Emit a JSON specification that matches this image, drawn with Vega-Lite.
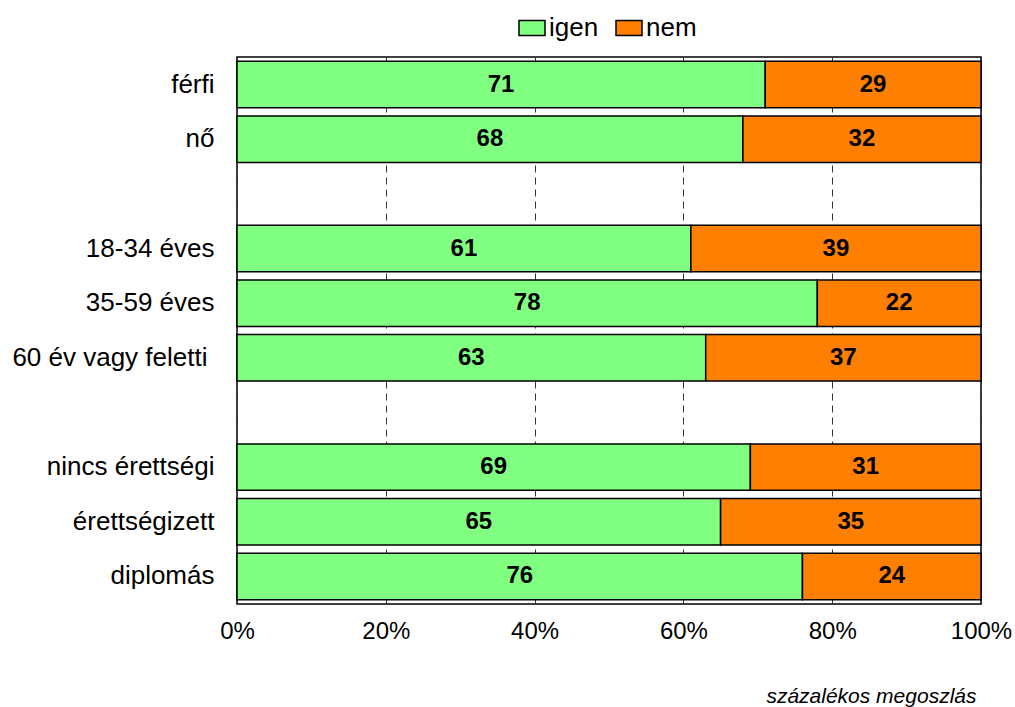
{
  "$schema": "https://vega.github.io/schema/vega-lite/v6.json",
  "autosize": {"type": "none"},
  "padding": {"left": 237, "top": 57, "right": 34, "bottom": 103},
  "width": 744,
  "height": 547,
  "background": "white",
  "config": {
    "font": "Liberation Sans",
    "view": {"stroke": "#000000", "strokeWidth": 1.5}
  },
  "data": {
    "values": [
      {"group": "férfi", "answer": "igen", "value": 71},
      {"group": "férfi", "answer": "nem", "value": 29},
      {"group": "nő", "answer": "igen", "value": 68},
      {"group": "nő", "answer": "nem", "value": 32},
      {"group": "18-34 éves", "answer": "igen", "value": 61},
      {"group": "18-34 éves", "answer": "nem", "value": 39},
      {"group": "35-59 éves", "answer": "igen", "value": 78},
      {"group": "35-59 éves", "answer": "nem", "value": 22},
      {"group": "60 év vagy feletti", "answer": "igen", "value": 63},
      {"group": "60 év vagy feletti", "answer": "nem", "value": 37},
      {"group": "nincs érettségi", "answer": "igen", "value": 69},
      {"group": "nincs érettségi", "answer": "nem", "value": 31},
      {"group": "érettségizett", "answer": "igen", "value": 65},
      {"group": "érettségizett", "answer": "nem", "value": 35},
      {"group": "diplomás", "answer": "igen", "value": 76},
      {"group": "diplomás", "answer": "nem", "value": 24}
    ]
  },
  "transform": [
    {"calculate": "datum.answer === 'igen' ? 0 : 1", "as": "ord"},
    {"stack": "value", "groupby": ["group"], "sort": [{"field": "ord"}], "as": ["x0", "x1"]},
    {"calculate": "(datum.x0 + datum.x1) / 2", "as": "mid"}
  ],
  "encoding": {
    "y": {
      "field": "group",
      "type": "nominal",
      "title": null,
      "scale": {
        "domain": ["férfi", "nő", " ", "18-34 éves", "35-59 éves", "60 év vagy feletti", "  ", "nincs érettségi", "érettségizett", "diplomás"],
        "paddingInner": 0.15,
        "paddingOuter": 0.08
      },
      "axis": {
        "domain": false,
        "ticks": false,
        "labelFontSize": 26,
        "labelColor": "#000000",
        "labelPadding": {"condition": {"test": "datum.value === '60 év vagy feletti'", "value": 30}, "value": 23},
        "labelLimit": 400,
        "labelAlign": "right"
      }
    }
  },
  "layer": [
    {
      "mark": {"type": "bar", "stroke": "#000000", "strokeWidth": 1.5},
      "encoding": {
        "x": {
          "field": "x0",
          "type": "quantitative",
          "scale": {"domain": [0, 100], "nice": false},
          "axis": {
            "values": [0, 20, 40, 60, 80, 100],
            "labelExpr": "datum.value + '%'",
            "domain": false,
            "ticks": false,
            "grid": true,
            "gridDash": [7, 5],
            "gridColor": "#333333",
            "gridWidth": 1,
            "labelFontSize": 24,
            "labelColor": "#000000",
            "labelPadding": 15,
            "labelFlush": false,
            "title": "százalékos megoszlás",
            "titleFontStyle": "italic",
            "titleFontWeight": "normal",
            "titleFontSize": 21,
            "titleColor": "#000000",
            "titleAnchor": "end",
            "titleAlign": "right",
            "titleBaseline": "alphabetic",
            "titleX": 739,
            "titleY": 98
          }
        },
        "x2": {"field": "x1"},
        "color": {
          "field": "answer",
          "type": "nominal",
          "scale": {"domain": ["igen", "nem"], "range": ["#80FF80", "#FF8000"]},
          "legend": {
            "title": null,
            "orient": "none",
            "direction": "horizontal",
            "legendX": 281,
            "legendY": -43,
            "symbolType": "M-1,-0.58H1V0.58H-1Z",
            "symbolSize": 676,
            "symbolStrokeColor": "#000000",
            "symbolStrokeWidth": 1.5,
            "symbolOpacity": 1,
            "labelFontSize": 26,
            "labelColor": "#000000",
            "labelOffset": 3,
            "columnPadding": 14
          }
        }
      }
    },
    {
      "mark": {"type": "text", "fontWeight": "bold", "fontSize": 24, "color": "#000000", "baseline": "middle"},
      "encoding": {
        "x": {"field": "mid", "type": "quantitative"},
        "text": {"field": "value", "type": "quantitative"}
      }
    }
  ]
}
